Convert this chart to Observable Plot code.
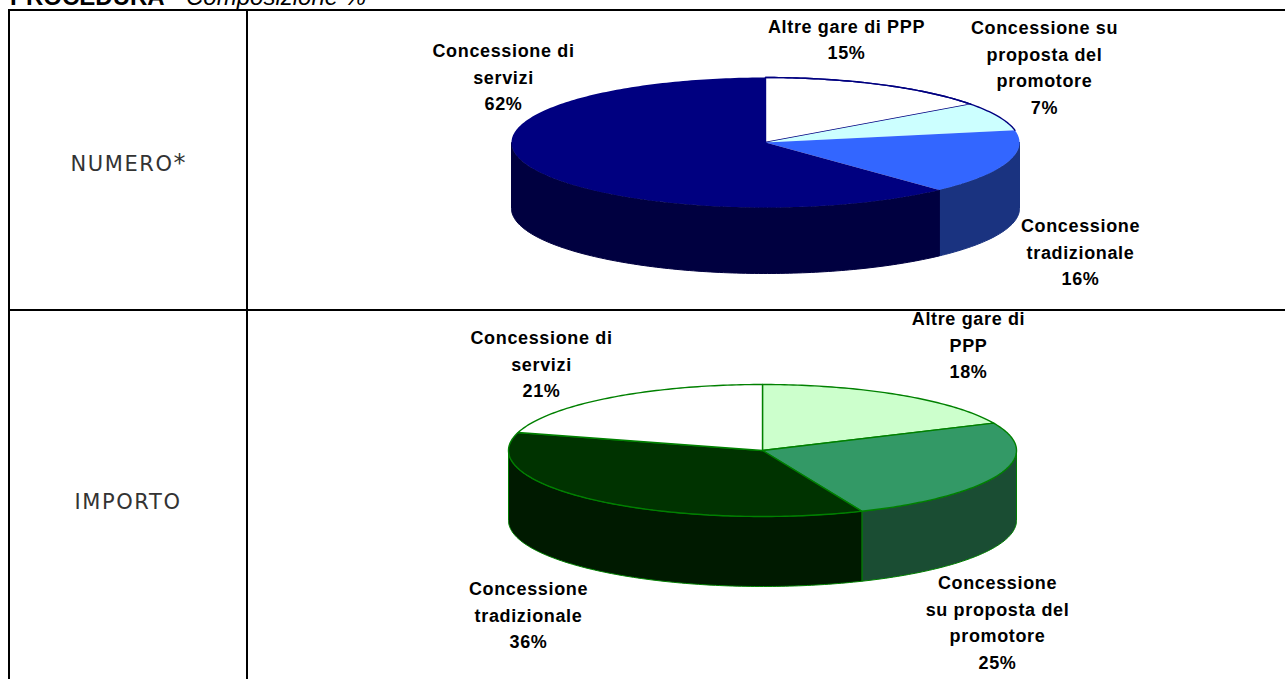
<!DOCTYPE html>
<html>
<head>
<meta charset="utf-8">
<script src="https://cdn.jsdelivr.net/npm/d3@7"></script>
<script src="https://cdn.jsdelivr.net/npm/@observablehq/plot@0.6"></script>
<style>
html,body{margin:0;padding:0;background:#fff;overflow:hidden}
#page{position:relative;width:1285px;height:679px;overflow:hidden}
.rule{position:absolute;background:#000}
.cell{position:absolute;left:10px;width:236px;text-align:center;font:normal 21px "DejaVu Sans",sans-serif;color:#333;letter-spacing:1.6px}
.cell sup{font-size:24px;line-height:0;vertical-align:0px;letter-spacing:0}
#title{position:absolute;left:10px;top:-17px;font:24px "Liberation Sans",Arial,sans-serif;white-space:pre;color:#000}
</style>
</head>
<body>
<div id="page">
  <div id="title"><b>PROCEDURA</b> - <i>Composizione %</i></div>
  <div class="rule" style="left:8px;top:9px;width:1277px;height:2px"></div>
  <div class="rule" style="left:8px;top:309px;width:1277px;height:2px"></div>
  <div class="rule" style="left:8px;top:9px;width:2px;height:670px"></div>
  <div class="rule" style="left:246px;top:9px;width:2px;height:670px"></div>
  <div class="cell" style="top:152px">NUMERO<sup>*</sup></div>
  <div class="cell" style="top:490px">IMPORTO</div>
</div>
<script>
// ---- data ----
const numeroCategories = ["Altre gare di PPP", "Concessione su proposta del promotore", "Concessione tradizionale", "Concessione di servizi"];
const numeroValues = [15, 7, 16, 62];
const numeroLabels = ["Altre gare di PPP", "Concessione su\nproposta del\npromotore", "Concessione\ntradizionale", "Concessione di\nservizi"];

const importoCategories = ["Altre gare di PPP", "Concessione su proposta del promotore", "Concessione tradizionale", "Concessione di servizi"];
const importoValues = [18.2, 25.4, 35.8, 20.6];
const importoLabels = ["Altre gare di\nPPP", "Concessione\nsu proposta del\npromotore", "Concessione\ntradizionale", "Concessione di\nservizi"];

// ---- styles and layout ----
const numeroStyle = {
  top: ["#ffffff", "#ccffff", "#3366ff", "#000080"],
  side: ["#808080", "#668080", "#1a3380", "#000040"],
  outline: "#000080", outlined: [0], arcOutlined: [0, 1], sideStroke: false,
  top0: 11, height: 298, cx: 765, cy: 142, rx: 254, ry: 65, depth: 66,
  offsets: [[81, -105], [279, -77], [315, 108], [-262, -67]]
};
const importoStyle = {
  top: ["#ccffcc", "#339966", "#003300", "#ffffff"],
  side: ["#668066", "#1a4d33", "#001a00", "#808080"],
  outline: "#008000", outlined: [0, 1, 2, 3], arcOutlined: [], sideStroke: true,
  top0: 311, height: 368, cx: 762, cy: 450, rx: 254, ry: 66, depth: 70,
  offsets: [[206, -107], [235, 170], [-234, 163], [-221, -88]]
};
const fontSize = 18, lineGap = 26.5;

function pie3d(categories, values, labels, s) {
  const total = d3.sum(values);
  let cum = 0;
  const slices = values.map((v, i) => {
    const a0 = cum / total * 2 * Math.PI; cum += v;
    return {i, name: categories[i], value: v, label: labels[i] + "\n" + Math.round(v) + "%", a0, a1: cum / total * 2 * Math.PI};
  });
  const arc = (a0, a1, drop = 0) => {
    const n = Math.max(2, Math.ceil((a1 - a0) * 180 / Math.PI));
    return d3.range(n + 1).map(k => {
      const t = a0 + (a1 - a0) * k / n;
      return {x: Math.sin(t), y: Math.cos(t) - drop};
    });
  };
  const dropU = s.depth / s.ry;
  const marks = [];
  // side walls: the front half of the rim only
  for (const d of slices) {
    const a0 = Math.max(d.a0, Math.PI / 2), a1 = Math.min(d.a1, 3 * Math.PI / 2);
    if (a1 <= a0) continue;
    const pts = [...arc(a0, a1), ...arc(a0, a1, dropU).reverse()];
    pts.push(pts[0]);
    marks.push(Plot.line(pts, {x: "x", y: "y", fill: s.side[d.i], stroke: s.sideStroke ? s.outline : s.side[d.i], strokeWidth: 1, curve: "linear"}));
  }
  // top face
  for (const d of slices) {
    const closed = s.outlined.includes(d.i);
    const pts = [{x: 0, y: 0}, ...arc(d.a0, d.a1), {x: 0, y: 0}];
    marks.push(Plot.line(pts, {x: "x", y: "y", fill: s.top[d.i], stroke: closed ? s.outline : "none", strokeWidth: 1.4, curve: "linear"}));
  }
  for (const d of slices) {
    if (s.arcOutlined.includes(d.i)) marks.push(Plot.line(arc(d.a0, d.a1), {x: "x", y: "y", stroke: s.outline, strokeWidth: 1.4, curve: "linear"}));
  }
  // labels
  slices.forEach((d, j) => {
    marks.push(Plot.text([d], {
      x: () => 0, y: () => 0, text: "label",
      dx: s.offsets[j][0], dy: s.offsets[j][1],
      fontFamily: "Liberation Sans, Arial, sans-serif", fontWeight: "bold", fontSize,
      lineHeight: lineGap / fontSize, fill: "#000", textAnchor: "middle"
    }));
  });
  const left = 248;
  const chart = Plot.plot({
    width: 1037, height: s.height,
    marginTop: 0, marginRight: 0, marginBottom: 0, marginLeft: 0,
    x: {domain: [-1, 1], range: [s.cx - s.rx - left, s.cx + s.rx - left], axis: null},
    y: {domain: [1, -1], range: [s.cy - s.ry - s.top0, s.cy + s.ry - s.top0], axis: null},
    style: {background: "transparent", overflow: "visible", letterSpacing: "0.65px"},
    marks
  });
  chart.style.position = "absolute";
  chart.style.left = left + "px";
  chart.style.top = s.top0 + "px";
  document.getElementById("page").appendChild(chart);
}
pie3d(numeroCategories, numeroValues, numeroLabels, numeroStyle);
pie3d(importoCategories, importoValues, importoLabels, importoStyle);
</script>
</body>
</html>
